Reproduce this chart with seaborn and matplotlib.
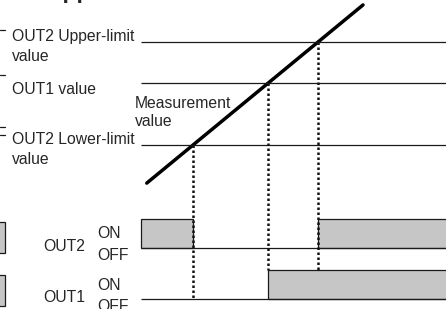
import numpy as np
import seaborn as sns
import matplotlib.pyplot as plt
from matplotlib.patches import Rectangle
from matplotlib.lines import Line2D

sns.set_style('white')
plt.rcParams['font.family'] = ['Liberation Sans', 'DejaVu Sans']

# Measurement value rising over time (end points of the straight line)
meas_time = [1.5, 88]
meas_value = [11.5, 98]

# Set values (lower limit, OUT1, upper limit)
setting_values = [30, 60, 80]
lower, out1, upper = setting_values

# time span of the chart
t_start, t_end = -0.8, 130

# times where the measurement crosses each setting
t_low, t_o1, t_up = np.interp(setting_values, meas_value, meas_time)

# ON intervals of the outputs
out2_on = [(t_start, t_low), (t_up, t_end)]
out1_on = [(t_o1, t_end)]

W, H = 446, 309
def fx(px):
    return px / W
def fy(py):
    return 1 - py / H

fig = plt.figure(figsize=(W / 100, H / 100), dpi=100)

ax_m = fig.add_axes([0, fy(190), 1, 190 / H])
ax2 = fig.add_axes([0, fy(256), 1, 51 / H])
ax1 = fig.add_axes([0, 0, 1, 47 / H])

# measurement line and setting levels
sns.lineplot(x=meas_time, y=meas_value, ax=ax_m, color='black', linewidth=2.5)
ax_m.hlines(setting_values, t_start, t_end, color='#1a1a1a', linewidth=0.9)
ax_m.set_ylim(8.16, 100.4)

# output states
fill = '#c6c6c6'
for ax, on in [(ax2, out2_on), (ax1, out1_on)]:
    ax.hlines(0, t_start, t_end, color='#1a1a1a', linewidth=0.9)
    for a, b in on:
        ax.bar(a, 1, width=b - a, align='edge', bottom=0, color=fill,
               edgecolor='#1a1a1a', linewidth=0.9)
ax2.set_ylim(-0.276, 1.483)
ax1.set_ylim(-0.345, 1.276)

for ax in [ax_m, ax2, ax1]:
    ax.set_xlim(-57.2, 121.2)
    ax.axis('off')
    ax.patch.set_alpha(0)

# dotted drop lines from the crossing points down to OUT1
to_fig = fig.transFigure.inverted()
for t, lev, end in [(t_low, lower, 0), (t_o1, out1, 1), (t_up, upper, 1)]:
    p0 = to_fig.transform(ax_m.transData.transform((t, lev)))
    p1 = to_fig.transform(ax1.transData.transform((t, end)))
    fig.add_artist(Line2D([p0[0], p1[0]], [p0[1], p1[1]], color='#111111',
                          linewidth=1.8, linestyle=(0, (1, 1))))

# text
fs = 11.3
labels = [
    (12, 41, 'OUT2 Upper-limit'), (12, 61, 'value'),
    (12, 94, 'OUT1 value'),
    (135, 108, 'Measurement'), (135, 126, 'value'),
    (12, 144, 'OUT2 Lower-limit'), (12, 164, 'value'),
    (43, 251, 'OUT2'), (97, 238, 'ON'), (97, 260, 'OFF'),
    (43, 302, 'OUT1'), (97, 290, 'ON'), (97, 311, 'OFF'),
]
for x, y, s in labels:
    fig.text(fx(x), fy(y), s, fontsize=fs, va='baseline', ha='left')

# cropped title above the picture
fig.text(fx(46), fy(-2), 'Application', fontsize=16.5, fontweight='bold',
         va='baseline', ha='left')

# cropped pieces at the left edge
for y in [30, 75, 127, 135]:
    fig.add_artist(Line2D([fx(0), fx(5)], [fy(y), fy(y)], color='#1a1a1a', linewidth=0.9))
for y0, y1 in [(222, 253), (275, 306)]:
    fig.add_artist(Rectangle((fx(-2), fy(y1)), fx(7), (y1 - y0) / H,
                             facecolor=fill, edgecolor='#1a1a1a', linewidth=0.9))

fig.savefig('out.png', dpi=100)
